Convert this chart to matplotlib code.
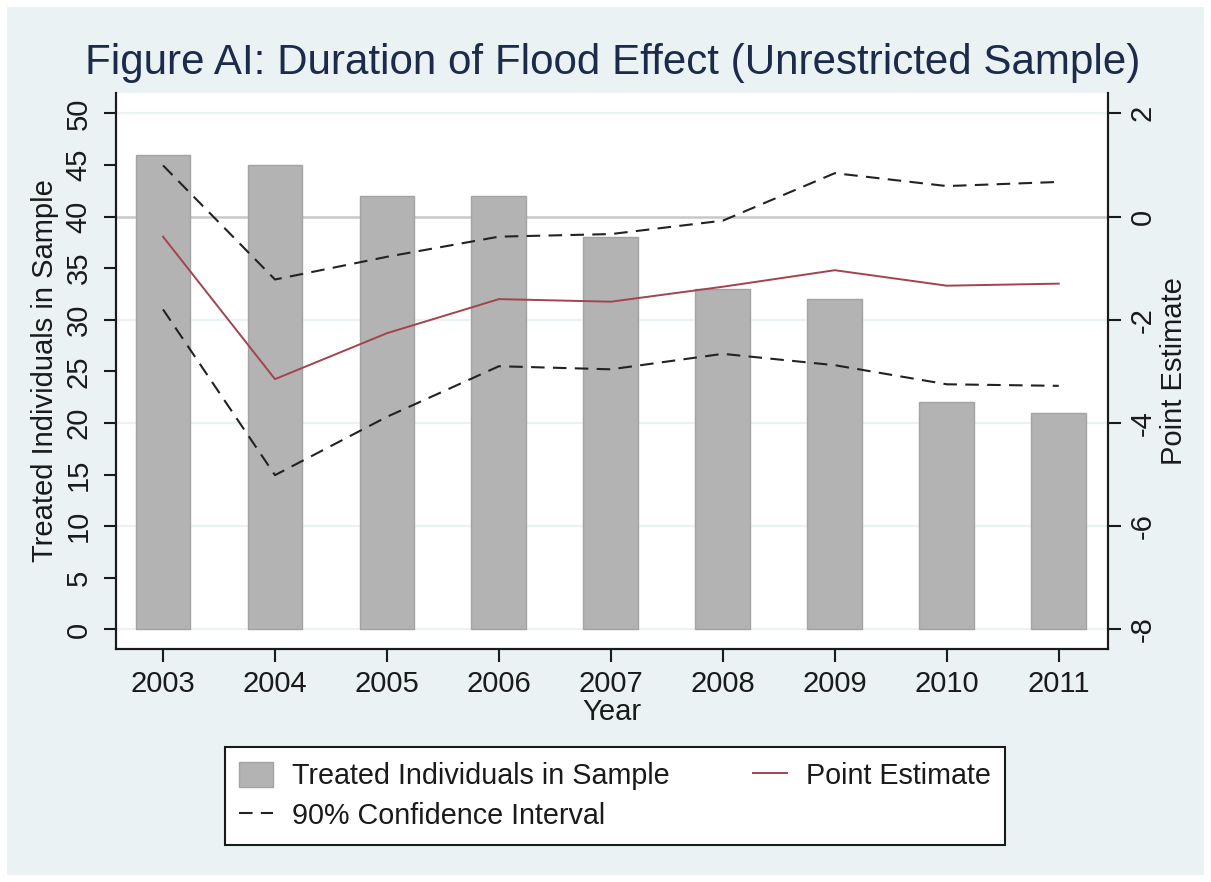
import matplotlib
matplotlib.use("Agg")
import matplotlib.pyplot as plt
from matplotlib.patches import Rectangle
from matplotlib.transforms import blended_transform_factory
from matplotlib.lines import Line2D
from matplotlib.patches import Patch

years = [2003, 2004, 2005, 2006, 2007, 2008, 2009, 2010, 2011]
treated = [46, 45, 42, 42, 38, 33, 32, 22, 21]
point_est = [-0.39, -3.15, -2.26, -1.60, -1.65, -1.36, -1.04, -1.34, -1.30]
ci_upper = [0.99, -1.22, -0.78, -0.39, -0.34, -0.08, 0.84, 0.59, 0.67]
ci_lower = [-1.80, -5.01, -3.88, -2.90, -2.96, -2.66, -2.88, -3.25, -3.28]

left_ticks = [0, 5, 10, 15, 20, 25, 30, 35, 40, 45, 50]
grid_vals = [0, 10, 20, 30, 50]
right_ticks = [2, 0, -2, -4, -6, -8]

plt.rcParams['font.family'] = ['Liberation Sans', 'DejaVu Sans']

BG = '#eaf2f3'
FS = 21
TXT = '#1a1a1a'
CI_DASH = (6.5, 4.0)

fig = plt.figure(figsize=(12.11, 8.82), dpi=100)
fig.patch.set_facecolor('white')
fig.patches.append(Rectangle((7/1211, 7/882), 1197/1211, 868/882, transform=fig.transFigure,
                             facecolor=BG, edgecolor='none', zorder=-10))

ax = fig.add_axes([116/1211, 1-649/882, 992/1211, 556/882])
ax.set_facecolor('white')
ax2 = ax.twinx()

ax.set_xlim(2002.58, 2011.44)
ax.set_ylim(-1.89, 51.97)
ax2.set_ylim(-8.378, 2.393)

for g in grid_vals:
    ax.axhline(g, color='#eaf2f3', lw=1.6, zorder=0)
trans = blended_transform_factory(ax.transAxes, ax2.transData)
ax.plot([0, 1], [0, 0], transform=trans, color='#c8c8c8', lw=1.8, zorder=0.5)

ax.bar(years, treated, width=0.49, color='#b3b3b3', edgecolor='#a3a3a3', lw=1.0, zorder=2)

ax2.plot(years, point_est, color='#a3434d', lw=1.4, zorder=3)
for s in (ci_upper, ci_lower):
    ln, = ax2.plot(years, s, color='#222222', lw=1.5, zorder=3)
    ln.set_dashes(CI_DASH)

for a in (ax, ax2):
    a.spines['top'].set_visible(False)
    for sp in ('left', 'right', 'bottom'):
        a.spines[sp].set_linewidth(1.5)
        a.spines[sp].set_color(TXT)

ax.set_xticks(years)
ax.set_xticklabels([str(y) for y in years])
ax.set_yticks(left_ticks)
ax.set_yticklabels([str(t) for t in left_ticks], rotation=90, va='center')
ax2.set_yticks(right_ticks)
ax2.set_yticklabels([str(t) for t in right_ticks], rotation=90, va='center')

ax.tick_params(axis='x', labelsize=FS, length=9, width=1.5, color=TXT, labelcolor=TXT, pad=6)
ax.tick_params(axis='y', labelsize=FS, length=9, width=1.5, color=TXT, labelcolor=TXT, pad=8)
ax2.tick_params(axis='y', labelsize=FS, length=9, width=1.5, color=TXT, labelcolor=TXT, pad=6)

ax.set_xlabel('Year', fontsize=FS, color=TXT, labelpad=0)
ax.set_ylabel('Treated Individuals in Sample', fontsize=FS, color=TXT, labelpad=4)
ax2.set_ylabel('Point Estimate', fontsize=FS, color=TXT, rotation=90, labelpad=2)

fig.text(0.506, 1-63/882, 'Figure AI: Duration of Flood Effect (Unrestricted Sample)',
         ha='center', va='center', fontsize=30.3, color='#1c2b4b')

h_bar = Patch(facecolor='#b3b3b3', edgecolor='#a3a3a3', label='Treated Individuals in Sample')
h_ci = Line2D([0], [0], color='#222222', lw=1.5, dashes=CI_DASH, label='90% Confidence Interval')
h_pe = Line2D([0], [0], color='#a3434d', lw=1.4, label='Point Estimate')
leg = fig.legend(handles=[h_bar, h_ci, h_pe], loc='center', bbox_to_anchor=(615/1211, 1-796/882),
                 ncol=2, fontsize=20.7, frameon=True, fancybox=False, edgecolor=TXT,
                 facecolor='white', framealpha=1, borderpad=0.5, columnspacing=2.9,
                 handlelength=1.17, handleheight=1.0, handletextpad=0.66, labelspacing=0.4)
leg.get_frame().set_linewidth(1.5)
for t in leg.get_texts():
    t.set_color(TXT)

fig.savefig('out.png', dpi=100, facecolor=fig.get_facecolor())
